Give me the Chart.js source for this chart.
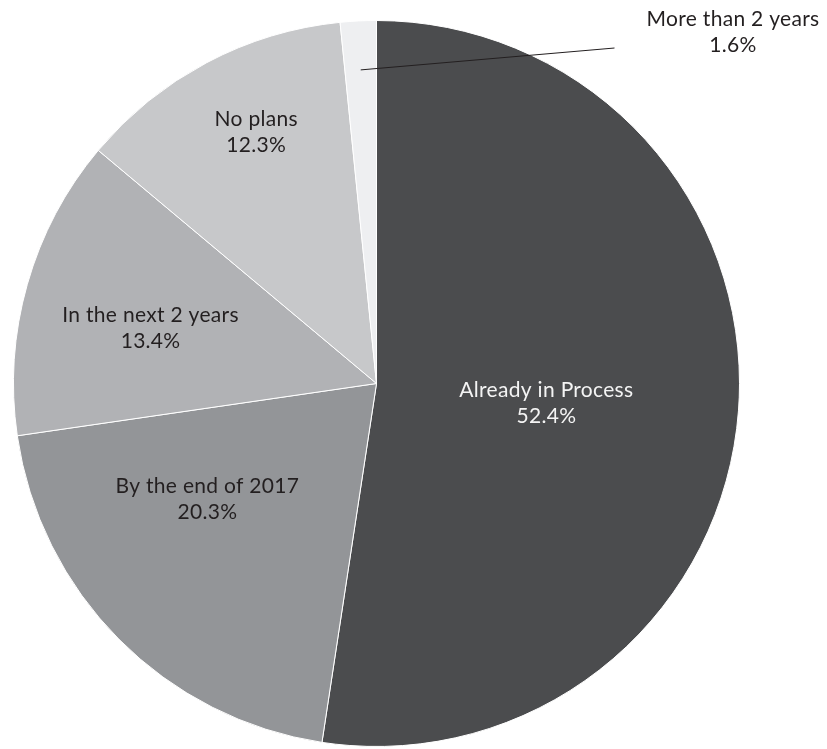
<!DOCTYPE html>
<html>
<head>
<meta charset="utf-8">
<script src="https://cdn.jsdelivr.net/npm/chart.js@4/dist/chart.umd.min.js"></script>
<style>
  html, body { margin: 0; padding: 0; background: #fff; }
  #wrap { width: 827px; height: 749px; position: relative; }
</style>
</head>
<body>
<div id="wrap"><canvas id="myChart" width="827" height="749"></canvas></div>
<script>
// slices, clockwise from 12 o'clock
const categories = ['Already in Process', 'By the end of 2017', 'In the next 2 years', 'No plans', 'More than 2 years'];
const shares = [52.4, 20.3, 13.4, 12.3, 1.6];
const sliceColors = ['#4b4c4e', '#939598', '#b1b2b5', '#c7c8ca', '#eeeff1'];
const textColors = ['#f4f4f4', '#231f20', '#231f20', '#231f20', '#231f20'];

// where the inside labels sit: fraction of the radius, and a small turn (degrees) off the slice middle
const labelRadius = [0.471, 0.564, 0.641, 0.767, null];
const labelTurn = [2.2, 10.5, -2, 2.3, 0];

// the thin slice gets a leader line out to the upper right
const calloutIndex = 4;
const leaderStart = 0.865;
const leaderEnd = { dx: 238, dy: -335.5 };
const calloutText = { dx: 356.5, dy: -357.5 };

const fontFamily = 'Lato, "Noto Sans", sans-serif';
const fontSize = 21;
const lineGap = 26;

const sliceLabels = {
  id: 'sliceLabels',
  afterDatasetsDraw(chart) {
    const ctx = chart.ctx;
    const arcs = chart.getDatasetMeta(0).data;
    ctx.save();
    ctx.font = fontSize + 'px ' + fontFamily;
    ctx.letterSpacing = '0.3px';
    ctx.textAlign = 'center';
    ctx.textBaseline = 'alphabetic';
    arcs.forEach((arc, i) => {
      const { x, y, startAngle, endAngle, outerRadius } = arc.getProps(['x', 'y', 'startAngle', 'endAngle', 'outerRadius'], true);
      const mid = (startAngle + endAngle) / 2;
      const pct = shares[i].toFixed(1) + '%';
      ctx.fillStyle = textColors[i];
      if (i === calloutIndex) {
        const sx = x + Math.cos(mid) * outerRadius * leaderStart;
        const sy = y + Math.sin(mid) * outerRadius * leaderStart;
        ctx.strokeStyle = '#231f20';
        ctx.lineWidth = 1;
        ctx.beginPath();
        ctx.moveTo(sx, sy);
        ctx.lineTo(x + leaderEnd.dx, y + leaderEnd.dy);
        ctx.stroke();
        ctx.fillText(categories[i], x + calloutText.dx, y + calloutText.dy);
        ctx.fillText(pct, x + calloutText.dx, y + calloutText.dy + lineGap);
        return;
      }
      const a = mid + labelTurn[i] * Math.PI / 180;
      const r = outerRadius * labelRadius[i];
      const lx = x + Math.cos(a) * r;
      const ly = y + Math.sin(a) * r;
      ctx.fillText(categories[i], lx, ly - 6);
      ctx.fillText(pct, lx, ly - 6 + lineGap);
    });
    ctx.restore();
  }
};

const ctx = document.querySelector('#myChart').getContext('2d');
const myChart = new Chart(ctx, {
  type: 'pie',
  data: {
    labels: categories,
    datasets: [{
      data: shares,
      backgroundColor: sliceColors,
      borderColor: '#ffffff',
      borderWidth: 1,
      hoverOffset: 0,
      offset: 0
    }]
  },
  options: {
    responsive: false,
    animation: false,
    radius: 363,
    layout: { padding: { left: 0, right: 74, top: 18, bottom: 0 } },
    plugins: {
      legend: { display: false },
      tooltip: { enabled: false }
    }
  },
  plugins: [sliceLabels]
});
</script>
</body>
</html>
